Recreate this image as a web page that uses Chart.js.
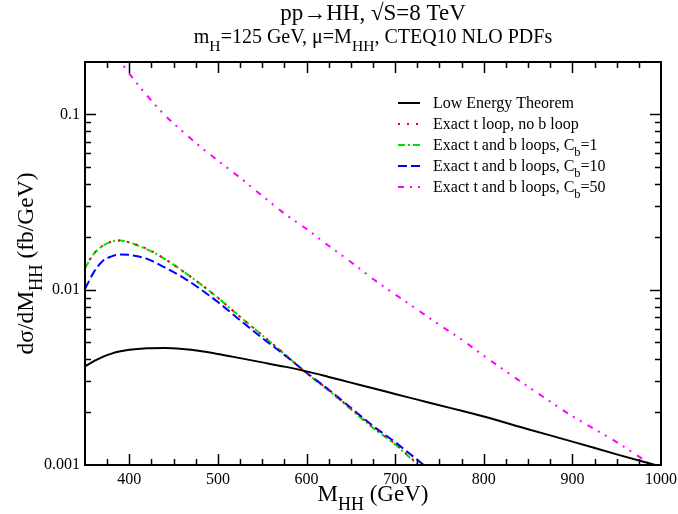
<!DOCTYPE html>
<html>
<head>
<meta charset="utf-8">
<script src="https://cdn.jsdelivr.net/npm/chart.js@4"></script>
<style>
  html, body { margin: 0; padding: 0; background: #fff; }
</style>
</head>
<body>
<canvas id="myChart" width="678" height="514"></canvas>
<script>
//data (fb/GeV)
const mHH = [350, 360, 370, 380, 390, 400, 420, 440, 460, 480, 500, 525, 550, 575, 600,
             625, 650, 675, 700, 725, 750, 775, 800, 850, 900, 950, 1000];

const lowEnergy = [0.00365, 0.00391, 0.00414, 0.00432, 0.00445, 0.00454, 0.00463, 0.00465, 0.00459,
                   0.00447, 0.00430, 0.00407, 0.00385, 0.00364, 0.00342, 0.00318, 0.00295, 0.00274,
                   0.00254, 0.00236, 0.00219, 0.00204, 0.00189, 0.00160, 0.00136, 0.00115, 0.00098];
const tLoopOnly = [0.0133, 0.0161, 0.0178, 0.0188, 0.0191, 0.0186, 0.0171, 0.0150, 0.0128, 0.0108,
                   0.0090, 0.0070, 0.0055, 0.00431, 0.00335, 0.00268, 0.00210, 0.00164, 0.00132,
                   0.00102, 0.00081, null, null, null, null, null, null];
const cb1 = [0.0133, 0.0160, 0.0178, 0.0188, 0.0191, 0.0186, 0.0170, 0.0150, 0.0128, 0.0108,
             0.0090, 0.0070, 0.0055, 0.00430, 0.00334, 0.00266, 0.00208, 0.00163, 0.00131,
             0.00101, 0.00080, null, null, null, null, null, null];
const cb10 = [0.0101, 0.0126, 0.0146, 0.0155, 0.0159, 0.0158, 0.0150, 0.0134, 0.0118, 0.0101,
              0.0085, 0.0067, 0.0053, 0.00425, 0.00336, 0.00269, 0.00212, 0.00167, 0.00135,
              0.00107, 0.00085, null, null, null, null, null, null];
const cb50 = [null, null, null, 0.233, 0.200, 0.171, 0.128, 0.099, 0.080, 0.0655, 0.0545, 0.0435,
              0.0343, 0.0272, 0.0222, 0.0178, 0.0144, 0.0115, 0.0094, 0.0077, 0.0063, 0.0052,
              0.0042, 0.0028, 0.0019, 0.00135, 0.00092];

const xTicks = [400, 500, 600, 700, 800, 900, 1000];
const yTicks = [0.001, 0.01, 0.1];

const serif = '"Liberation Serif", "Times New Roman", serif';
const SUB = 0.78;

const legendRows = [
  { parts: [['Low Energy Theorem']], color: '#000000', dash: [], width: 2 },
  { parts: [['Exact t loop, no b loop']], color: '#ff0000', dash: [2, 7], width: 2 },
  { parts: [['Exact t and b loops, C'], ['b', 1], ['=1']], color: '#00e000', dash: [7, 3, 2, 3], width: 2 },
  { parts: [['Exact t and b loops, C'], ['b', 1], ['=10']], color: '#0000ff', dash: [9, 4], width: 2 },
  { parts: [['Exact t and b loops, C'], ['b', 1], ['=50']], color: '#ff00ff', dash: [6, 6, 2, 6, 2, 7], width: 2 },
];

const pts = arr => mHH.map((x, i) => ({ x: x, y: arr[i] }));

//text with subscripts
function richWidth(ctx, parts, size) {
  let w = 0;
  for (const [txt, sub] of parts) {
    ctx.font = (sub ? size * SUB : size) + 'px ' + serif;
    w += ctx.measureText(txt).width;
  }
  return w;
}
function drawRich(ctx, parts, x, y, size, center) {
  let cx = center ? x - richWidth(ctx, parts, size) / 2 : x;
  ctx.textAlign = 'left';
  ctx.textBaseline = 'alphabetic';
  ctx.fillStyle = '#000';
  for (const [txt, sub] of parts) {
    ctx.font = (sub ? size * SUB : size) + 'px ' + serif;
    ctx.fillText(txt, cx, sub ? y + size * 0.38 : y);
    cx += ctx.measureText(txt).width;
  }
}

const decor = {
  id: 'decor',
  afterDraw(chart) {
    const { ctx, chartArea: a, scales: { x, y } } = chart;
    ctx.save();

    //inward ticks on all four sides
    ctx.strokeStyle = '#000';
    ctx.lineWidth = 1.5;
    ctx.beginPath();
    for (let v = 375; v < 1000; v += 25) {
      const px = Math.round(x.getPixelForValue(v)) + 0.5;
      const len = v % 100 === 0 ? 11 : 6;
      ctx.moveTo(px, a.bottom); ctx.lineTo(px, a.bottom - len);
      ctx.moveTo(px, a.top); ctx.lineTo(px, a.top + len);
    }
    for (const d of yTicks) {
      for (let m = 1; m <= 9; m++) {
        const v = d * m;
        if (v <= y.min || v >= y.max) continue;
        const py = Math.round(y.getPixelForValue(v)) + 0.5;
        const len = m === 1 ? 11 : 6;
        ctx.moveTo(a.left, py); ctx.lineTo(a.left + len, py);
        ctx.moveTo(a.right, py); ctx.lineTo(a.right - len, py);
      }
    }
    ctx.stroke();
    ctx.lineWidth = 2;
    ctx.strokeRect(a.left, a.top, a.right - a.left, a.bottom - a.top);

    //titles
    const mid = (a.left + a.right) / 2;
    drawRich(ctx, [['pp\u2192HH, \u221AS=8 TeV']], mid, 20, 23, true);
    drawRich(ctx, [['m'], ['H', 1], ['=125 GeV, \u03BC=M'], ['HH', 1], [', CTEQ10 NLO PDFs']], mid, 43, 20, true);
    drawRich(ctx, [['M'], ['HH', 1], [' (GeV)']], mid, 501, 23, true);
    ctx.save();
    ctx.translate(33, (a.top + a.bottom) / 2);
    ctx.rotate(-Math.PI / 2);
    drawRich(ctx, [['d\u03C3/dM'], ['HH', 1], [' (fb/GeV)']], 0, 0, 23.5, true);
    ctx.restore();

    //legend
    legendRows.forEach((row, i) => {
      const ry = a.top + 41 + i * 21;
      ctx.strokeStyle = row.color;
      ctx.lineWidth = row.width;
      ctx.setLineDash(row.dash);
      ctx.beginPath();
      ctx.moveTo(a.right - 263, ry);
      ctx.lineTo(a.right - 241, ry);
      ctx.stroke();
      ctx.setLineDash([]);
      drawRich(ctx, row.parts, a.right - 228, ry + 5, 16, false);
    });
    ctx.restore();
  }
};

const line = (label, arr, row, order) => ({
  label: label,
  data: pts(arr),
  borderColor: row.color,
  borderWidth: row.width,
  borderDash: row.dash,
  fill: false,
  order: order,
});

const data = {
  datasets: [
    line('Low Energy Theorem', lowEnergy, legendRows[0], 0),
    line('Exact t loop, no b loop', tLoopOnly, legendRows[1], 1),
    line('Exact t and b loops, Cb=1', cb1, legendRows[2], 3),
    line('Exact t and b loops, Cb=10', cb10, legendRows[3], 2),
    line('Exact t and b loops, Cb=50', cb50, legendRows[4], 4),
  ]
};

const tickFont = { family: serif, size: 16 };
const noPad = s => { s.paddingLeft = 0; s.paddingRight = 0; s.paddingTop = 0; s.paddingBottom = 0; };

const options = {
  responsive: false,
  devicePixelRatio: 1,
  animation: false,
  layout: { padding: { top: 62, right: 17, left: 0, bottom: 0 } },
  elements: {
    point: { radius: 0 },
    line: { cubicInterpolationMode: 'monotone', borderCapStyle: 'butt' }
  },
  plugins: {
    legend: { display: false },
    title: { display: false },
    tooltip: { enabled: false }
  },
  scales: {
    x: {
      type: 'linear',
      min: 350,
      max: 1000,
      grid: { display: false, drawTicks: false },
      border: { display: false },
      afterBuildTicks: s => { s.ticks = xTicks.map(v => ({ value: v })); },
      afterFit: s => { s.height = 49; noPad(s); },
      ticks: { color: '#000', font: tickFont, padding: 5, maxRotation: 0, autoSkip: false,
               callback: v => String(v) }
    },
    y: {
      type: 'logarithmic',
      min: 0.001,
      max: 0.199,
      grid: { display: false, drawTicks: false },
      border: { display: false },
      afterBuildTicks: s => { s.ticks = yTicks.map(v => ({ value: v })); },
      afterFit: s => { s.width = 85; noPad(s); },
      ticks: { color: '#000', font: tickFont, padding: 5, autoSkip: false,
               callback: v => String(v) }
    }
  }
};

const myChart = new Chart(document.getElementById('myChart'), {
  type: 'line',
  data,
  options,
  plugins: [decor]
});
</script>
</body>
</html>
